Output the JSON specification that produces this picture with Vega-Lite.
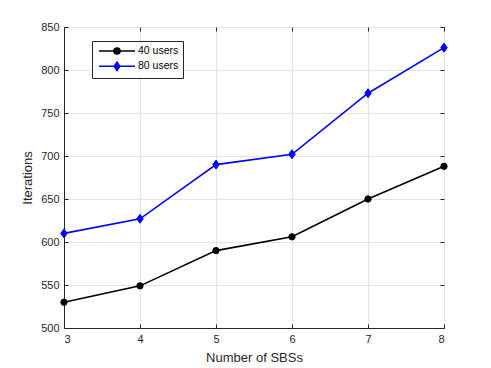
{
  "$schema": "https://vega.github.io/schema/vega-lite/v6.json",
  "width": 380,
  "height": 301,
  "autosize": {"type": "none"},
  "padding": {"left": 64, "top": 27, "right": 47, "bottom": 40},
  "background": "white",
  "config": {
    "font": "Liberation Sans",
    "view": {"stroke": "#262626", "strokeWidth": 1},
    "axis": {
      "labelFont": "Liberation Sans",
      "titleFont": "Liberation Sans",
      "labelFontSize": 11,
      "titleFontSize": 13,
      "titleFontWeight": "normal",
      "labelColor": "#262626",
      "titleColor": "#262626",
      "domainColor": "#262626",
      "tickColor": "#262626",
      "gridColor": "#e3e3e3",
      "gridWidth": 1,
      "tickSize": -4,
      "labelPadding": 9
    }
  },
  "data": {
    "values": [
      {"n": 3, "it": 530, "series": "40 users"},
      {"n": 4, "it": 549, "series": "40 users"},
      {"n": 5, "it": 590, "series": "40 users"},
      {"n": 6, "it": 606, "series": "40 users"},
      {"n": 7, "it": 650, "series": "40 users"},
      {"n": 8, "it": 688, "series": "40 users"},
      {"n": 3, "it": 610, "series": "80 users"},
      {"n": 4, "it": 627, "series": "80 users"},
      {"n": 5, "it": 690, "series": "80 users"},
      {"n": 6, "it": 702, "series": "80 users"},
      {"n": 7, "it": 773, "series": "80 users"},
      {"n": 8, "it": 826, "series": "80 users"}
    ]
  },
  "layer": [
    {
      "mark": {"type": "line", "strokeWidth": 1.6},
      "encoding": {
        "x": {
          "field": "n", "type": "quantitative",
          "scale": {"domain": [3, 8], "nice": false, "zero": false},
          "axis": {"values": [3, 4, 5, 6, 7, 8], "title": "Number of SBSs", "titlePadding": 7, "grid": true}
        },
        "y": {
          "field": "it", "type": "quantitative",
          "scale": {"domain": [500, 850], "nice": false, "zero": false},
          "axis": {"values": [500, 550, 600, 650, 700, 750, 800, 850], "title": "Iterations", "titlePadding": 6, "grid": true}
        },
        "color": {
          "field": "series", "type": "nominal",
          "scale": {"domain": ["40 users", "80 users"], "range": ["#000000", "#0000ff"]},
          "legend": {
            "title": null,
            "orient": "none",
            "legendX": 28,
            "legendY": 14,
            "direction": "vertical",
            "fillColor": "white",
            "strokeColor": "#262626",
            "padding": 4,
            "rowPadding": 1.3,
            "labelFontSize": 10.5,
            "labelColor": "#000000",
            "labelFont": "Liberation Sans",
            "labelOffset": 30,
            "symbolSize": 100,
            "symbolStrokeWidth": 1.5,
            "encode": {
              "symbols": {
                "update": {
                  "shape": {"signal": "datum.value === '40 users' ? 'M-3.6,0H3.6M-0.6,0A0.6,0.6 0 1,0 0.6,0A0.6,0.6 0 1,0 -0.6,0Z' : 'M-3.6,0H3.6M0,-0.85L0.55,0L0,0.85L-0.55,0Z'"},
                  "stroke": {"signal": "datum.value === '40 users' ? '#000000' : '#0000ff'"},
                  "fill": {"signal": "datum.value === '40 users' ? '#000000' : '#0000ff'"},
                  "size": {"value": 100},
                  "x": {"value": 21},
                  "strokeWidth": {"value": 1.5},
                  "opacity": {"value": 1}
                }
              }
            }
          }
        }
      }
    },
    {
      "transform": [{"filter": "datum.series === '40 users'"}],
      "mark": {"type": "point", "filled": true, "shape": "circle", "size": 40, "opacity": 1, "color": "#000000", "stroke": "#000000", "strokeWidth": 1},
      "encoding": {
        "x": {
          "field": "n", "type": "quantitative",
          "axis": {"orient": "top", "values": [3, 4, 5, 6, 7, 8], "labels": false, "title": null, "grid": false, "domain": false}
        },
        "y": {
          "field": "it", "type": "quantitative",
          "axis": {"orient": "right", "values": [500, 550, 600, 650, 700, 750, 800, 850], "labels": false, "title": null, "grid": false, "domain": false}
        }
      }
    },
    {
      "transform": [{"filter": "datum.series === '80 users'"}],
      "mark": {"type": "point", "filled": true, "shape": "M0,-1L0.72,0L0,1L-0.72,0Z", "size": 81, "opacity": 1, "color": "#0000ff", "stroke": "#0000ff", "strokeWidth": 1},
      "encoding": {
        "x": {"field": "n", "type": "quantitative", "axis": null},
        "y": {"field": "it", "type": "quantitative", "axis": null}
      }
    }
  ],
  "resolve": {"axis": {"x": "independent", "y": "independent"}}
}
